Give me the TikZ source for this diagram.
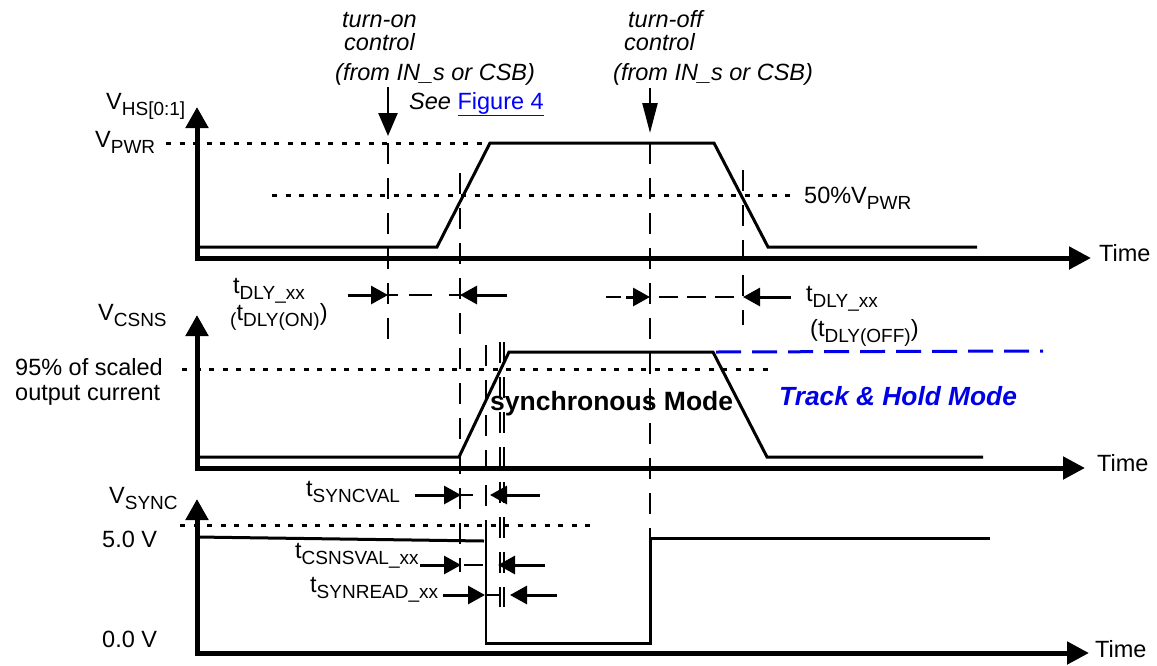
\documentclass[tikz,border=0pt]{standalone}
\usepackage{fontspec}
\setmainfont{Liberation Sans}
\usetikzlibrary{arrows.meta}
\definecolor{lnkblue}{RGB}{0,0,255}
\definecolor{thblue}{RGB}{0,0,230}
\newcommand{\lsub}[1]{\raisebox{-6pt}{\fontsize{19}{19}\selectfont #1}}
\begin{document}
\begin{tikzpicture}[x=1pt,y=-1pt,
  txt/.style={font=\fontsize{23.5}{27}\selectfont, inner sep=0pt, anchor=base west},
  itxt/.style={txt, font=\fontsize{23.5}{27}\selectfont\itshape},
  axis/.style={line width=5pt, arrows={Triangle[length=21pt,width=22pt]-Triangle[length=22pt,width=22pt]}},
  sig/.style={line width=3pt, line join=miter},
  dotl/.style={line width=3pt, dash pattern=on 5pt off 8.5pt},
  vdash/.style={line width=2pt, dash pattern=on 21pt off 14pt},
  tarr/.style={line width=3pt, -{Triangle[length=17pt,width=18pt]}},
  tickln/.style={line width=2pt}]
\useasboundingbox (0,0) rectangle (1157,665);

% ---- control labels
\node[itxt] (on1) at (342,27) {turn-on};
\node[itxt] (on2) at (344,50) {control};
\node[itxt] (on3) at (335,80) {(from IN\_s or CSB)};
\node[txt] (on4) at (409,109) {\itshape See \textcolor{lnkblue}{\upshape\underline{Figure 4}}};
\node[itxt] (off1) at (628,27) {turn-off};
\node[itxt] (off2) at (624,50) {control};
\node[itxt] (off3) at (613,80) {(from IN\_s or CSB)};
\coordinate (onA) at (388,87); \coordinate (onT) at (388,136);
\coordinate (offA) at (650,88); \coordinate (offT) at (650,133);
\draw[line width=2.5pt, -{Triangle[length=23pt,width=19pt]}] (onA) -- (onT);
\draw[line width=2.5pt, -{Triangle[length=30pt,width=15pt]}] (offA) -- (offT);

% ---- panel 1
\node[txt] (vhs) at (106,109) {V\lsub{HS[0:1]}};
\node[txt] (vpwr) at (95,147) {V\lsub{PWR}};
\node[txt] (p50) at (804,203) {50\%V\lsub{PWR}};
\node[txt] (time1) at (1099,261) {Time};
\draw[dotl] (166,143) -- (490,143);
\draw[dotl] (272,195) -- (790,195);

% vertical dashed markers
\draw[vdash] (388,143) -- (388,342);
\draw[vdash] (460,173) -- (460,572);
\draw[vdash] (650,143) -- (650,538);
\draw[vdash] (743,170) -- (743,325);
\draw[vdash] (486,345) -- (486,607);
\draw[vdash] (500,342) -- (500,607);
\draw[vdash] (504,342) -- (504,607);

\draw[sig] (197,247) -- (437,247) -- (490,143) -- (714,143) -- (768,247) -- (977,247);
\draw[axis] (197,107) -- (197,258) -- (1091,258);

% ---- panel 2
\node[txt] (vcsns) at (98,320) {V\lsub{CSNS}};
\node[txt] (p95a) at (15,375) {95\% of scaled};
\node[txt] (p95b) at (15,400) {output current};
\node[txt] (time2) at (1097,471) {Time};
\draw[dotl] (182,369) -- (769,369);
\draw[sig] (197,457) -- (459,457) -- (509,352) -- (713,352) -- (767,457) -- (983,457);
\draw[line width=3pt, thblue, dash pattern=on 25pt off 11pt] (716,352) -- (1043,351);
\draw[axis] (197,315) -- (197,468) -- (1085,468);
\node[txt, font=\fontsize{26.5}{30}\selectfont\bfseries] (sync) at (490,410) {synchronous Mode};
\node[txt, font=\fontsize{26.3}{30}\selectfont\bfseries\itshape, text=thblue] (th) at (779,405) {Track \& Hold Mode};

\node[txt] (dlyl) at (233,293) {t\lsub{DLY\_xx}};
\node[txt] (dlyl2) at (230,320) {\lsub{(}t\lsub{DLY(ON)})};
\node[txt] (dlyr) at (806,301) {t\lsub{DLY\_xx}};
\node[txt] (dlyr2) at (810,336) {(t\lsub{DLY(OFF)})};

\draw[tarr] (348,295) -- (388,295);
\draw[line width=2.5pt, dash pattern=on 10pt off 11pt on 23pt off 17pt] (388,295) -- (460,295);
\draw[tarr] (507,295) -- (460,295);
\draw[line width=2.5pt] (606,297) -- (621,297);
\draw[tarr] (626,297) -- (650,297);
\draw[line width=2.5pt, dash pattern=on 19pt off 9pt] (659,297) -- (743,297);
\draw[tarr] (791,297) -- (743,297);

% ---- panel 3
\node[txt] (vsync) at (109,503) {V\lsub{SYNC}};
\node[txt] (v5) at (102,547) {5.0 V};
\node[txt] (v0) at (102,647) {0.0 V};
\node[txt] (time3) at (1095,657) {Time};
\draw[dotl] (180,525) -- (592,525);
\draw[sig] (197,537) -- (484,541);
\draw[line width=2.2pt] (486,540) -- (486,643);
\draw[sig] (485,643) -- (650,643) -- (650,538) -- (990,538);
\draw[axis] (197,499) -- (197,653) -- (1089,653);

\node[txt] (syncval) at (306,496) {t\lsub{SYNCVAL}};
\draw[tarr] (415,495) -- (461,495);
\draw[tickln] (461,495) -- (473,495);
\draw[tarr] (540,495) -- (490,495);

\node[txt] (csnsval) at (295,558) {t\lsub{CSNSVAL\_xx}};
\draw[tarr] (420,565) -- (461,565);
\draw[tickln] (464,565) -- (483,565);
\draw[tarr] (545,565) -- (498,565);

\node[txt] (synread) at (310,592) {t\lsub{SYNREAD\_xx}};
\draw[tarr] (443,595) -- (485,595);
\draw[tickln] (485,595) -- (499,595);
\draw[tarr] (557,595) -- (510,595);
\end{tikzpicture}
\end{document}
